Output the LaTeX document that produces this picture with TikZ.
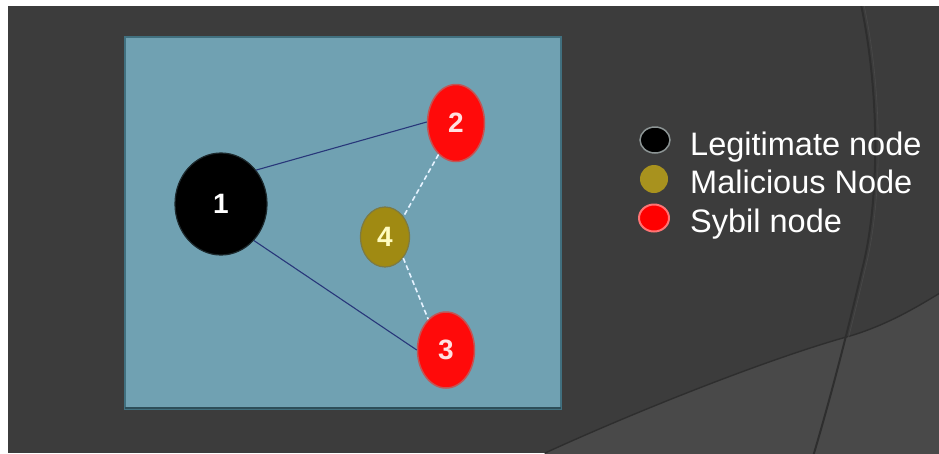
\documentclass[tikz,border=0pt]{standalone}
\usepackage{fontspec}
\setmainfont{Liberation Sans}
\usetikzlibrary{shapes.geometric}
\definecolor{bgdark}{HTML}{3C3C3C}
\definecolor{bglight}{HTML}{494949}
\definecolor{arcline}{HTML}{2E2E2E}
\definecolor{panel}{HTML}{70A1B2}
\definecolor{paneledge}{HTML}{41707F}
\definecolor{navyline}{HTML}{28377A}
\definecolor{dashline}{HTML}{E4F2FF}
\definecolor{sybil}{HTML}{FF0A0A}
\definecolor{sybiledge}{HTML}{C25555}
\definecolor{malic}{HTML}{A08A12}
\definecolor{malicedge}{HTML}{7C7A44}
\definecolor{malicleg}{HTML}{A8921E}
\definecolor{legitedge}{HTML}{8C9494}
\begin{document}
\begin{tikzpicture}[x=1pt,y=-1pt,
  graphnode/.style={ellipse,inner sep=0pt,font=\fontsize{28}{32}\selectfont\bfseries},
  legitnode/.style={graphnode,fill=black,draw=black!75!panel,line width=1.2pt,text=white},
  sybilnode/.style={graphnode,fill=sybil,draw=sybiledge,line width=1.5pt,text=red!12!white},
  malicnode/.style={graphnode,fill=malic,draw=malicedge,line width=1.2pt,text=yellow!25!white},
  solidlink/.style={draw=navyline,line width=1.1pt},
  dashlink/.style={draw=dashline,line width=1.6pt,dash pattern=on 5pt off 3pt},
  legbullet/.style={ellipse,inner sep=0pt},
  legtext/.style={anchor=base west,inner sep=0pt,text=white,font=\fontsize{32.5}{38}\selectfont}]
\useasboundingbox (0,0) rectangle (939,453);
\fill[white] (0,0) rectangle (939,453);
% background
\fill[bgdark] (8,6) rectangle (939,453);
\begin{scope}
\clip (8,6) rectangle (939,453);
\fill[bglight] (545,453) .. controls (650,405) and (780,355) .. (850,336)
  .. controls (890,324) and (920,305) .. (945,290) -- (945,460) -- (540,460) -- cycle;
\draw[arcline,line width=1.4pt] (545,453) .. controls (650,405) and (780,355) .. (850,336)
  .. controls (890,324) and (920,305) .. (945,290);
\draw[arcline,line width=2pt] (860,0) .. controls (880,90) and (880,200) .. (862,270)
  .. controls (848,330) and (830,400) .. (812,460);
\draw[bglight,line width=0.6pt] (863,0) .. controls (883,90) and (883,200) .. (865,270)
  .. controls (851,330) and (833,400) .. (815,460);
\end{scope}
% panel
\fill[panel] (125,37) rectangle (561,409);
\draw[paneledge,line width=1.4pt] (125,37) rectangle (561,409);
\draw[paneledge!70!black,line width=2.5pt] (125,408) -- (561,408);
% nodes
\node[legitnode,minimum width=92pt,minimum height=102pt] (n1) at (221,204) {1};
\node[sybilnode,minimum width=57pt,minimum height=77pt] (n2) at (456,123) {2};
\node[sybilnode,minimum width=57pt,minimum height=76pt] (n3) at (446,350) {3};
\node[malicnode,minimum width=49pt,minimum height=60pt] (n4) at (385,237) {4};
% links
\draw[solidlink] (n1.44) -- (n2.178);
\draw[solidlink] (n1.-48) -- (n3.180);
\draw[dashlink] (n2.241) -- (n4.48);
\draw[dashlink] (n4.-49) -- (n3.120);
% legend
\node[legbullet,fill=black,draw=legitedge,line width=1.5pt,minimum width=30pt,minimum height=26pt] (lb1) at (655,140) {};
\node[legbullet,fill=malicleg,minimum width=28pt,minimum height=28pt] (lb2) at (654,179) {};
\node[legbullet,fill=red,draw=red!55!white,line width=2pt,minimum width=30pt,minimum height=27pt] (lb3) at (654,218) {};
\node[legtext] (lt1) at (690,155) {Legitimate node};
\node[legtext] (lt2) at (690,193) {Malicious Node};
\node[legtext] (lt3) at (690,232) {Sybil node};
\end{tikzpicture}
\end{document}
